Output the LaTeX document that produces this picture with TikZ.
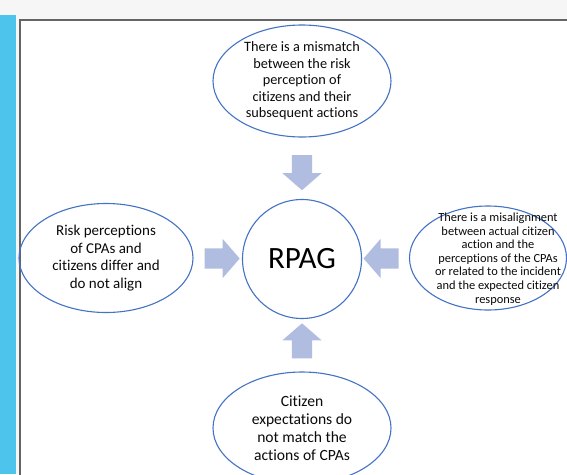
\documentclass[tikz,border=0pt]{standalone}
\usepackage{fontspec}
\setmainfont{Carlito}[Ligatures=NoCommon]
\usetikzlibrary{shapes.geometric,shapes.arrows,positioning,calc}

\begin{document}
\begin{tikzpicture}[x=1pt,y=-1pt,
	bubble/.style={ellipse,draw=ellblue,line width=1.1pt,inner sep=0pt},
	txt/.style={align=center,text=darktext,inner sep=0pt},
	blockarrow/.style={single arrow,fill=arrowblue,draw=none,inner xsep=0pt,inner ysep=10pt,
		single arrow head extend=9.5pt,single arrow tip angle=98,minimum height=35pt}]
	\definecolor{ellblue}{RGB}{68,114,196}
	\definecolor{arrowblue}{RGB}{176,189,224}
	\definecolor{barblue}{RGB}{77,196,236}
	\definecolor{stripgray}{RGB}{246,246,246}
	\definecolor{framegray}{RGB}{100,100,100}
	\definecolor{darktext}{RGB}{10,10,10}
	
	\useasboundingbox (0,0) rectangle (567,474);
	\clip (0,0) rectangle (567,474);
	\fill[stripgray] (0,0) rectangle (567,474);
	\fill[barblue] (0,15) rectangle (16,474);
	\fill[white] (19,19) rectangle (567,474);
	\draw[framegray,line width=1.4pt] (600,20) -- (20,20) -- (20,500);
	
	% ellipses
	\node[bubble,minimum width=178pt,minimum height=112pt] (top) at (302,81) {};
	\node[bubble,minimum width=174pt,minimum height=109pt] (left) at (106,258) {};
	\node[bubble,minimum width=157pt,minimum height=104pt] (right) at (488,258) {};
	\node[bubble,minimum width=178pt,minimum height=112pt] (bottom) at (302,428) {};
	\node[circle,draw=ellblue,line width=1.1pt,minimum size=119pt,inner sep=0pt] (rpag) at (302,259) {};
	
	% texts
	\node[txt,font=\fontsize{14.3}{16.5}\selectfont] (topTxt) at (top) {There is a mismatch\\between the risk\\perception of\\citizens and their\\subsequent actions};
	\node[txt,font=\fontsize{15}{17.5}\selectfont] (leftTxt) at (left) {Risk perceptions\\of CPAs and\\citizens differ and\\do not align};
	\node[txt,font=\fontsize{12.4}{13.6}\selectfont] (rightTxt) at ([xshift=10pt,yshift=-1pt]right) {There is a misalignment\\between actual citizen\\action and the\\perceptions of the CPAs\\or related to the incident\\and the expected citizen\\response};
	\node[txt,font=\fontsize{15.6}{18}\selectfont] (bottomTxt) at (bottom) {Citizen\\expectations do\\not match the\\actions of CPAs};
	\node[txt,font=\fontsize{31}{31}\selectfont,text=black] (rpagTxt) at (rpag) {RPAG};
	
	% arrows
	\node[blockarrow,rotate=-90] (arrTop) at ($(top.south)!0.5!(rpag.north)$) {};
	\node[blockarrow] (arrLeft) at ($(left.east)!0.5!(rpag.west)$) {};
	\node[blockarrow,rotate=180] (arrRight) at ($(right.west)!0.5!(rpag.east)$) {};
	\node[blockarrow,rotate=90] (arrBottom) at ($(bottom.north)!0.5!(rpag.south)$) {};
	
\end{tikzpicture}
\end{document}
